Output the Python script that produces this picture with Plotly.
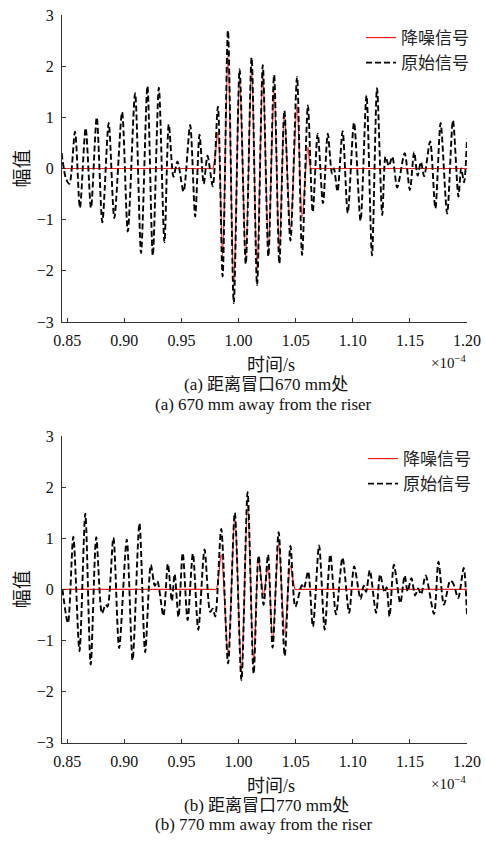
import plotly.graph_objects as go

# ---------------- data (time in units of 1e-4 s) ----------------
# (a) 670 mm : original (raw) signal, read peak-by-peak
t_a_raw = [0.8451, 0.8489, 0.8519, 0.8568, 0.8611, 0.8661, 0.8708, 0.8758, 0.8807, 0.8863,
           0.8912, 0.8980, 0.9030, 0.9094, 0.9146, 0.9202, 0.9249, 0.9302, 0.9351, 0.9389,
           0.9430, 0.9465, 0.9518, 0.9576, 0.9620, 0.9658, 0.9695, 0.9728, 0.9774, 0.9819,
           0.9860, 0.9907, 0.9958, 1.0009, 1.0063, 1.0114, 1.0162, 1.0212, 1.0261, 1.0311,
           1.0357, 1.0401, 1.0454, 1.0512, 1.0556, 1.0607, 1.0649, 1.0693, 1.0739, 1.0781,
           1.0818, 1.0835, 1.0866, 1.0911, 1.0956, 1.1011, 1.1068, 1.1120, 1.1168, 1.1212,
           1.1258, 1.1287, 1.1316, 1.1346, 1.1389, 1.1454, 1.1500, 1.1537, 1.1568, 1.1596,
           1.1625, 1.1677, 1.1723, 1.1769, 1.1826, 1.1877, 1.1925, 1.1949, 1.1974, 1.2000]
y_a_raw = [0.3, -0.2, -0.3, 0.72, -0.77, 0.79, -0.77, 1.0, -1.05, 0.89,
           -0.97, 1.1, -1.23, 1.47, -1.65, 1.61, -1.7, 1.58, -1.44, 0.86,
           -0.16, 0.14, -0.45, 0.85, -0.94, 0.66, -0.3, 0.25, -0.35, 1.21,
           -2.11, 2.7, -2.63, 1.94, -1.87, 2.17, -2.28, 2.02, -1.72, 1.83,
           -1.86, 1.13, -1.41, 1.79, -1.69, 1.23, -0.85, 0.68, -0.68, 0.68,
           -0.1, 0.0, -0.45, 0.73, -0.87, 0.9, -1.02, 1.43, -1.7, 1.57,
           -0.91, 0.23, 0.05, 0.23, -0.37, 0.3, -0.42, 0.32, -0.14, 0.13,
           -0.15, 0.53, -0.78, 0.89, -0.88, 0.94, -0.55, 0.0, -0.27, 0.58]
# (a) denoised signal
t_a_den = [0.8451, 0.9000, 0.9750, 0.9774, 0.9819, 0.9860, 0.9907, 0.9958, 1.0009, 1.0063,
           1.0114, 1.0162, 1.0212, 1.0261, 1.0311, 1.0357, 1.0401, 1.0454, 1.0512, 1.0556,
           1.0607, 1.0633, 1.0660, 1.1500, 1.2000]
y_a_den = [0.0, 0.0, 0.0, 0.0, 0.7, -1.7, 2.25, -2.3, 1.82, -1.75,
           2.0, -2.0, 1.9, -1.55, 1.55, -1.6, 1.1, -1.2, 1.25, -0.95,
           0.42, 0.0, 0.0, 0.0, 0.0]

# (b) 770 mm : original signal
t_b_raw = [0.8458, 0.8506, 0.8553, 0.8607, 0.8658, 0.8705, 0.8754, 0.8804, 0.8835, 0.8853,
           0.8904, 0.8954, 0.9021, 0.9072, 0.9132, 0.9182, 0.9232, 0.9267, 0.9289, 0.9342,
           0.9381, 0.9416, 0.9440, 0.9474, 0.9511, 0.9554, 0.9600, 0.9647, 0.9702, 0.9752,
           0.9774, 0.9796, 0.9848, 0.9908, 0.9967, 1.0025, 1.0079, 1.0132, 1.0175, 1.0219,
           1.0258, 1.0298, 1.0351, 1.0404, 1.0454, 1.0497, 1.0554, 1.0572, 1.0609, 1.0651,
           1.0705, 1.0754, 1.0803, 1.0853, 1.0910, 1.0968, 1.1012, 1.1068, 1.1096, 1.1116,
           1.1149, 1.1204, 1.1239, 1.1278, 1.1296, 1.1322, 1.1360, 1.1416, 1.1454, 1.1480,
           1.1513, 1.1546, 1.1572, 1.1598, 1.1638, 1.1711, 1.1750, 1.1798, 1.1853, 1.1879,
           1.1923, 1.1971, 1.2000]
y_b_raw = [0.0, -0.66, 1.03, -1.21, 1.48, -1.47, 1.02, -0.47, -0.3, -0.34,
           1.01, -1.15, 0.97, -1.38, 1.29, -1.23, 0.48, 0.07, 0.16, -0.52,
           0.5, -0.23, 0.3, -0.54, 0.71, -0.6, 0.7, -0.79, 0.78, -0.44,
           -0.38, -0.53, 1.18, -1.45, 1.5, -1.78, 1.9, -1.65, 0.66, -0.3,
           0.68, -1.14, 1.12, -1.3, 0.85, -0.34, 0.08, 0.02, 0.35, -0.73,
           0.86, -0.79, 0.68, -0.49, 0.62, -0.46, 0.45, -0.19, 0.07, -0.05,
           0.37, -0.46, 0.29, -0.06, 0.04, -0.53, 0.48, -0.27, 0.27, -0.04,
           0.22, -0.12, 0.02, -0.1, 0.27, -0.48, 0.54, -0.3, 0.17, 0.12,
           -0.17, 0.42, -0.52]
# (b) denoised signal
t_b_den = [0.8458, 0.9000, 0.9780, 0.9804, 0.9848, 0.9908, 0.9967, 1.0025, 1.0079, 1.0132,
           1.0175, 1.0219, 1.0258, 1.0298, 1.0351, 1.0404, 1.0454, 1.0497, 1.0525, 1.1500,
           1.2000]
y_b_den = [0.0, 0.0, 0.0, 0.0, 0.68, -1.3, 1.44, -1.63, 1.68, -1.44,
           0.58, -0.1, 0.46, -1.0, 0.9, -0.85, 0.46, 0.0, 0.0, 0.0,
           0.0]

x_ticks = [0.85, 0.90, 0.95, 1.00, 1.05, 1.10, 1.15, 1.20]
x_tick_text = ["0.85", "0.90", "0.95", "1.00", "1.05", "1.10", "1.15", "1.20"]
y_ticks = [-3, -2, -1, 0, 1, 2, 3]

name_den = "降噪信号"
name_raw = "原始信号"
x_title = "时间/s"
y_title = "幅值"
exp_text = "×10<sup>−4</sup>"
captions_a = ["(a) 距离冒口670 mm处", "(a) 670 mm away from the riser"]
captions_b = ["(b) 距离冒口770 mm处", "(b) 770 mm away from the riser"]

# ---------------- layout helpers (window pixels -> paper) ----------------
W, H = 485, 850
def PX(x):
    return x / W
def PY(y):
    return 1 - y / H

SERIF = "Liberation Serif, Noto Sans CJK SC, serif"
CJK = "Noto Sans CJK SC, Liberation Serif, sans-serif"

fig = go.Figure()

panels = [
    dict(xa="x", ya="y", leg="legend", td=t_a_den, yd=y_a_den, tr=t_a_raw, yr=y_a_raw),
    dict(xa="x2", ya="y2", leg="legend2", td=t_b_den, yd=y_b_den, tr=t_b_raw, yr=y_b_raw),
]
for p in panels:
    fig.add_trace(go.Scatter(x=p["td"], y=p["yd"], mode="lines", name=name_den,
                             line=dict(color="#ff1a1a", width=1.2, shape="spline", smoothing=0.8),
                             xaxis=p["xa"], yaxis=p["ya"], legend=p["leg"]))
    fig.add_trace(go.Scatter(x=p["tr"], y=p["yr"], mode="lines", name=name_raw,
                             line=dict(color="black", width=1.9, dash="6px,3px",
                                       shape="spline", smoothing=0.8),
                             xaxis=p["xa"], yaxis=p["ya"], legend=p["leg"]))

axis_common = dict(showgrid=False, zeroline=False, showline=True, linecolor="#333",
                   linewidth=1, ticks="inside", ticklen=4, tickcolor="#333",
                   automargin=False, ticklabeloverflow="allow",
                   tickfont=dict(family=SERIF, size=16, color="#111"))

x_dom = [PX(62), PX(467)]
top_dom = [PY(322), PY(15)]
bot_dom = [PY(742.7), PY(436)]

fig.update_layout(
    width=W, height=H,
    margin=dict(l=0, r=0, t=0, b=0, pad=0, autoexpand=False),
    paper_bgcolor="white", plot_bgcolor="white",
    xaxis=dict(domain=x_dom, range=[0.8454, 1.2], tickvals=x_ticks, ticktext=x_tick_text,
               anchor="y", ticklabelstandoff=4, **axis_common),
    yaxis=dict(domain=top_dom, range=[-3, 3], tickvals=y_ticks, anchor="x",
               ticklabelstandoff=4, **axis_common),
    xaxis2=dict(domain=x_dom, range=[0.8454, 1.2], tickvals=x_ticks, ticktext=x_tick_text,
                anchor="y2", ticklabelstandoff=4, **axis_common),
    yaxis2=dict(domain=bot_dom, range=[-3, 3], tickvals=y_ticks, anchor="x2",
                ticklabelstandoff=4, **axis_common),
    legend=dict(x=PX(474), y=PY(20), xanchor="right", yanchor="top",
                bgcolor="rgba(0,0,0,0)", font=dict(family=CJK, size=17, color="#222"),
                itemwidth=30, tracegroupgap=0),
    legend2=dict(x=PX(476), y=PY(441), xanchor="right", yanchor="top",
                 bgcolor="rgba(0,0,0,0)", font=dict(family=CJK, size=17, color="#222"),
                 itemwidth=30, tracegroupgap=0),
    showlegend=True,
)

ann = []
def add_text(text, x, y, size, family=SERIF, xanchor="center", angle=0):
    ann.append(dict(text=text, x=PX(x), y=PY(y), xref="paper", yref="paper",
                    xanchor=xanchor, yanchor="middle", showarrow=False, textangle=angle,
                    font=dict(family=family, size=size, color="#111")))

for (cap, ax_y, yc) in [(captions_a, 322, 168.5), (captions_b, 742.7, 589.3)]:
    add_text(x_title, 271, ax_y + 43, 18)
    add_text(exp_text, 468, ax_y + 40, 15, xanchor="right")
    add_text(cap[0], 266, ax_y + 63, 17)
    add_text(cap[1], 263, ax_y + 82, 17)
    add_text(y_title, 20, yc, 19, family=CJK, angle=-90)

fig.update_layout(annotations=ann)
fig.write_html("out.html",
               config={"displayModeBar": False},
               post_script="document.body.style.margin='0px';document.body.style.overflow='hidden';")
